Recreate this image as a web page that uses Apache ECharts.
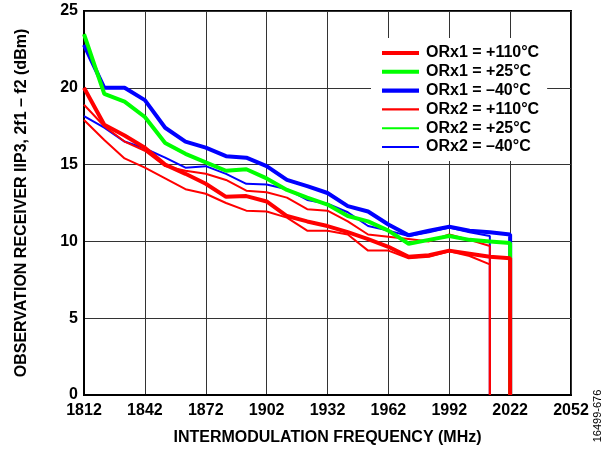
<!DOCTYPE html>
<html>
<head>
<meta charset="utf-8">
<script src="https://cdn.jsdelivr.net/npm/echarts@6/dist/echarts.min.js"></script>
<style>
html, body { margin: 0; padding: 0; background: #fff; }
#main { width: 614px; height: 450px; }
</style>
</head>
<body>
<div id="main"></div>
<script>
var freqs = [1812, 1822, 1832, 1842, 1852, 1862, 1872, 1882, 1892, 1902, 1912,
  1922, 1932, 1942, 1952, 1962, 1972, 1982, 1992, 2002, 2012, 2022];
var xTicks = [1812, 1842, 1872, 1902, 1932, 1962, 1992, 2022, 2052];
var yTicks = [0, 5, 10, 15, 20, 25];

// ORx1 runs to 2022 MHz, ORx2 stops at 2012 MHz
var orx1Hot = [20.0, 17.6, 16.9, 16.1, 15.0, 14.4, 13.75, 12.9, 12.95, 12.6, 11.65,
  11.3, 11.0, 10.6, 10.15, 9.65, 9.0, 9.1, 9.4, 9.2, 9.0, 8.9];
var orx1Room = [23.5, 19.6, 19.1, 18.1, 16.4, 15.7, 15.15, 14.6, 14.7, 14.1, 13.35,
  12.85, 12.4, 11.65, 11.3, 10.7, 9.85, 10.1, 10.35, 10.1, 10.0, 9.9];
var orx1Cold = [22.8, 20.0, 20.0, 19.2, 17.4, 16.5, 16.1, 15.55, 15.45, 14.9, 14.0,
  13.6, 13.15, 12.3, 11.95, 11.1, 10.4, 10.7, 10.95, 10.7, 10.6, 10.45];
var orx2Hot = [18.9, 17.5, 16.5, 15.9, 14.9, 14.6, 14.4, 14.0, 13.3, 13.2, 12.85,
  12.1, 12.0, 11.3, 10.45, 10.3, 10.15, 10.0, 10.45, 10.1, 9.7];
var orx2HotB = [17.9, 16.6, 15.4, 14.8, 14.1, 13.4, 13.1, 12.5, 12.0, 11.95, 11.55,
  10.7, 10.7, 10.45, 9.4, 9.4, 8.9, 9.0, 9.35, 9.05, 8.5];
var orx2Room = [];
var orx2Cold = [18.15, 17.4, 16.5, 16.05, 15.45, 14.8, 14.9, 14.4, 13.75, 13.7, 13.4,
  12.7, 12.45, 11.9, 11.0, 10.7, 10.35, 10.6, 10.9, 10.6, 10.35];

var RED = "#ff0000", GREEN = "#00ff00", BLUE = "#0000ff";
var FONT = "Liberation Sans, Arial, sans-serif";
var THICK_ICON = "path://M0,0 H36 V4 H0 Z";
var THIN_ICON = "path://M0,0 H36 V2 H0 Z";

// each trace drops to 0 at its last frequency
function toPairs(vals) {
  if (!vals.length) return [];
  var pts = vals.map(function (v, i) { return [freqs[i], v]; });
  pts.push([freqs[vals.length - 1], 0]);
  return pts;
}

function line(name, vals, color, width) {
  return {
    name: name,
    type: "line",
    data: toPairs(vals),
    symbol: "none",
    color: color,
    lineStyle: { color: color, width: width },
  };
}

var myChart = echarts.init(document.getElementById("main"));

option = {
  animation: false,
  backgroundColor: "#fff",
  textStyle: { fontFamily: FONT },
  grid: {
    left: 84, right: 43, top: 11, bottom: 55,
    containLabel: false, outerBoundsMode: "none",
    show: true, borderColor: "#000", borderWidth: 2,
  },
  legend: {
    orient: "vertical",
    left: 371,
    top: 38,
    backgroundColor: "#fff",
    padding: [7, 8, 6, 11],
    itemWidth: 37,
    itemHeight: 14,
    itemGap: 2.8,
    symbolKeepAspect: true,
    textStyle: { fontFamily: FONT, fontWeight: "bold", fontSize: 16, lineHeight: 16, color: "#000", padding: [0, 0, 0, 2] },
    data: [
      { name: "ORx1 = +110°C", icon: THICK_ICON },
      { name: "ORx1 = +25°C", icon: THICK_ICON },
      { name: "ORx1 = –40°C", icon: THICK_ICON },
      { name: "ORx2 = +110°C", icon: THIN_ICON },
      { name: "ORx2 = +25°C", icon: THIN_ICON },
      { name: "ORx2 = –40°C", icon: THIN_ICON },
    ],
  },
  xAxis: {
    type: "value",
    min: xTicks[0],
    max: xTicks[xTicks.length - 1],
    interval: 30,
    name: "INTERMODULATION FREQUENCY (MHz)",
    nameLocation: "middle",
    nameGap: 35,
    nameTextStyle: { fontFamily: FONT, fontWeight: "bold", fontSize: 16, color: "#000" },
    axisLine: { lineStyle: { color: "#000", width: 2 } },
    axisTick: { show: false },
    axisLabel: {
      fontFamily: FONT, fontWeight: "bold", fontSize: 16, color: "#000", margin: 8,
      formatter: function (v) { return String(v); },
    },
    splitLine: { lineStyle: { color: "#333", width: 1 } },
  },
  yAxis: {
    type: "value",
    min: yTicks[0],
    max: yTicks[yTicks.length - 1],
    interval: 5,
    name: "OBSERVATION RECEIVER IIP3, 2f1 – f2 (dBm)",
    nameLocation: "middle",
    nameGap: 54,
    nameTextStyle: { fontFamily: FONT, fontWeight: "bold", fontSize: 16, color: "#000" },
    axisLine: { show: true, lineStyle: { color: "#000", width: 2 } },
    axisTick: { show: false },
    axisLabel: { fontFamily: FONT, fontWeight: "bold", fontSize: 16, color: "#000", margin: 6 },
    splitLine: { lineStyle: { color: "#333", width: 1 } },
  },
  graphic: [
    {
      type: "text",
      x: 598,
      y: 416,
      rotation: Math.PI / 2,
      style: { text: "16499-676", font: "11px " + FONT, fill: "#000", align: "center", verticalAlign: "middle" },
    },
  ],
  series: [
    line("ORx2 = –40°C", orx2Cold, BLUE, 2),
    line("ORx2 = +25°C", orx2Room, GREEN, 2),
    line("ORx2 = +110°C", orx2Hot, RED, 2),
    line("ORx2 +110°C b", orx2HotB, RED, 2),
    line("ORx1 = –40°C", orx1Cold, BLUE, 4),
    line("ORx1 = +25°C", orx1Room, GREEN, 4),
    line("ORx1 = +110°C", orx1Hot, RED, 4),
  ],
};

myChart.setOption(option);
window.addEventListener("resize", function () {
  myChart.resize();
});
</script>
</body>
</html>
